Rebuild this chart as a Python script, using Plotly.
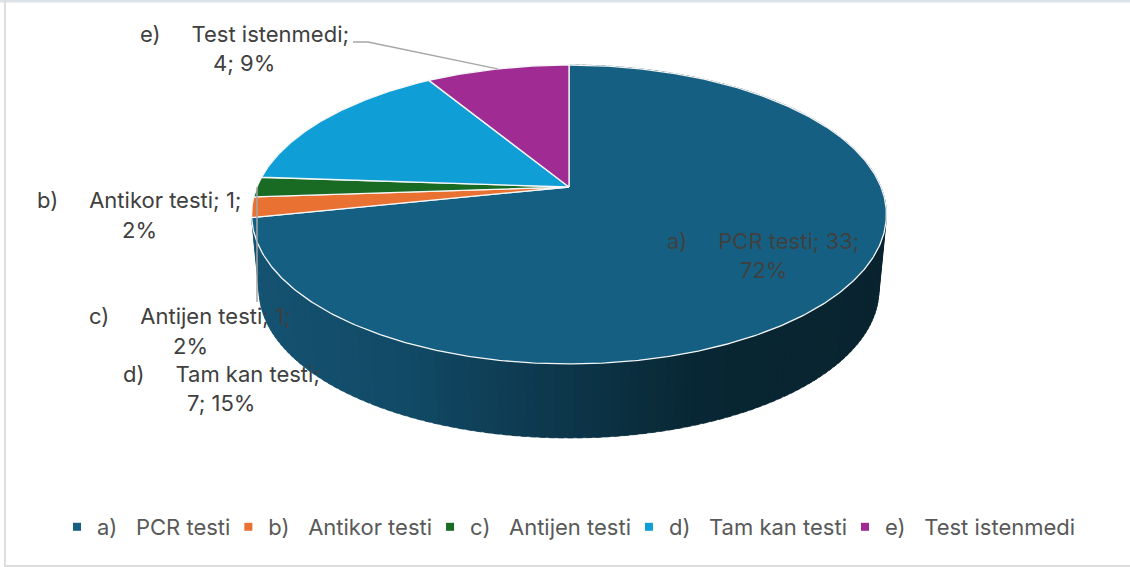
import numpy as np
import plotly.graph_objects as go

# --- data ---
letters = ["a)", "b)", "c)", "d)", "e)"]
names = ["PCR testi", "Antikor testi", "Antijen testi", "Tam kan testi", "Test istenmedi"]
values = [33, 1, 1, 7, 4]
colors = ["#156082", "#E97132", "#196B24", "#0F9ED5", "#A02B93"]

# --- style / layout ---
W, H = 1130, 567
FONT = "Inter"
FS_LABEL = 22
FS_LEG = 22
GAP = "\u00a0" * 5
GAP_LEG = "\u00a0" * 3
# label centre positions (x, y line 1, y line 2)
label_pos = [(763, 241, 270), (139, 200, 230), (190, 316, 346), (221, 374, 403), (244, 34, 63)]

# pie projection (a tilted disc seen in perspective)
CX, CY, A, B, K = 569.0, 187.0, 312.0, 144.4, 0.184
ELL_CY, ELL_RX, ELL_RY = 214.5, 317.5, 149.5
LOW_CY, LOW_RX, LOW_RY = 290.0, 310.0, 148.0


def rim(theta_deg, r=1.0):
    t = np.radians(theta_deg)
    u = r * np.cos(t)
    s = r * np.sin(t)
    w = 1 + K * u
    return CX + A * s / w, CY - B * u / w


def lower(x, y):
    return CX + (x - CX) * LOW_RX / ELL_RX, LOW_CY + (y - ELL_CY) * LOW_RY / ELL_RY


total = sum(values)
edges = np.concatenate([[0], np.cumsum(values)]) / total * 360.0
pcts = [round(v / total * 100) for v in values]

fig = go.Figure()

# side wall of the first slice, shaded left to right
shade_x = [255, 400, 570, 700, 887]
shade_rgb = np.array([[21, 82, 113], [17, 74, 102], [12, 53, 73], [8, 38, 51], [9, 36, 47]])
th = np.linspace(edges[0], edges[1], 181)
for a0, a1 in zip(th[:-1], th[1:]):
    tt = np.linspace(a0, a1 + (a1 - a0) * 0.6, 4)
    xt, yt = rim(tt)
    xl, yl = lower(xt, yt)
    xm = xt.mean()
    rgb = [int(round(np.interp(xm, shade_x, shade_rgb[:, i]))) for i in range(3)]
    col = f"rgb({rgb[0]},{rgb[1]},{rgb[2]})"
    fig.add_trace(go.Scatter(
        x=np.concatenate([xt, xl[::-1]]), y=np.concatenate([yt, yl[::-1]]),
        mode="lines", fill="toself", fillcolor=col, line=dict(color=col, width=0.5),
        showlegend=False, hoverinfo="skip"))

# top face slices
for i in range(len(values)):
    tt = np.linspace(edges[i], edges[i + 1], max(4, int((edges[i + 1] - edges[i]) * 2)))
    xt, yt = rim(tt)
    fig.add_trace(go.Scatter(
        x=np.concatenate([[CX], xt, [CX]]), y=np.concatenate([[CY], yt, [CY]]),
        mode="lines", fill="toself", fillcolor=colors[i],
        line=dict(color="#f4f6f7", width=1.3), showlegend=False,
        name=names[i], hoverinfo="skip"))

# leader lines, anchored on the slices' rim midpoints
LEADER = "#a6a6a6"
mid = lambda i: (edges[i] + edges[i + 1]) / 2
ex, ey = rim(mid(4))
fig.add_trace(go.Scatter(x=[353, 368, ex], y=[42, 42, ey], mode="lines",
                         line=dict(color=LEADER, width=1.3), showlegend=False, hoverinfo="skip"))
cx_, cy_ = rim(mid(2))
fig.add_trace(go.Scatter(x=[cx_, cx_], y=[cy_, 302], mode="lines",
                         line=dict(color=LEADER, width=1.5), showlegend=False, hoverinfo="skip"))

# legend entries
for i in range(len(values)):
    fig.add_trace(go.Scatter(
        x=[None], y=[None], mode="markers", name=f"{letters[i]}{GAP_LEG}{names[i]}",
        marker=dict(symbol="square", size=8, color=colors[i]), showlegend=True))

# data labels
line_texts = [
    (f"{letters[0]}{GAP}{names[0]}; {values[0]};", f"{pcts[0]}%"),
    (f"{letters[1]}{GAP}{names[1]}; {values[1]};", f"{pcts[1]}%"),
    (f"{letters[2]}{GAP}{names[2]}; {values[2]};", f"{pcts[2]}%"),
    (f"{letters[3]}{GAP}{names[3]};", f"{values[3]}; {pcts[3]}%"),
    (f"{letters[4]}{GAP}{names[4]};", f"{values[4]}; {pcts[4]}%"),
]
for (l1, l2), (x, y1, y2) in zip(line_texts, label_pos):
    for txt, y in ((l1, y1), (l2, y2)):
        fig.add_annotation(x=x, y=y, text=txt, showarrow=False, xanchor="center", yanchor="middle",
                           font=dict(family=FONT, size=FS_LABEL, color="#404040"))

# frame of the picture
frame = [
    (0, 0, W, 2.5, "#dbe2e8"),
    (4, 0, 6, H, "#dedede"),
    (4, 565, W, 567, "#dedede"),
]
shapes = [dict(type="rect", x0=a, y0=b, x1=c, y1=d, fillcolor=col, line=dict(width=0), layer="below")
          for a, b, c, d, col in frame]

fig.update_layout(
    width=W, height=H, margin=dict(l=0, r=0, t=0, b=0),
    paper_bgcolor="white", plot_bgcolor="white", shapes=shapes,
    xaxis=dict(range=[0, W], visible=False, fixedrange=True),
    yaxis=dict(range=[H, 0], visible=False, fixedrange=True),
    legend=dict(orientation="h", x=64 / W, y=1 - 527 / H, xanchor="left", yanchor="middle",
                indentation=-7,
                font=dict(family=FONT, size=FS_LEG, color="#595959"),
                bgcolor="rgba(0,0,0,0)", itemclick=False, itemdoubleclick=False),
    showlegend=True, hovermode=False,
)
fig.write_html("out.html", config={"displayModeBar": False},
               post_script="document.body.style.margin='0';")
